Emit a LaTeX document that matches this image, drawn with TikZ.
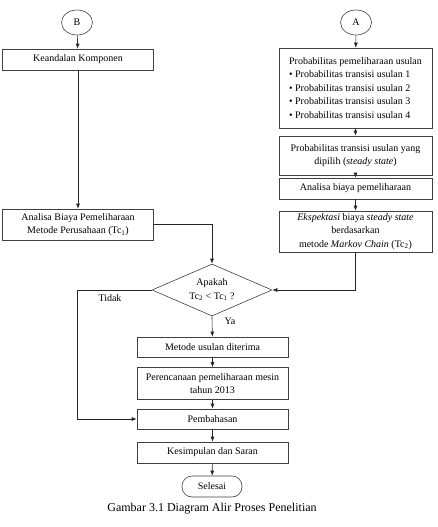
\documentclass[tikz,border=0pt]{standalone}
\usepackage{fontspec}
\setmainfont{Liberation Serif}
\usetikzlibrary{shapes}
\usetikzlibrary{shapes.geometric}
\usetikzlibrary{arrows.meta}
\tikzset{
    cell/.style = {rectangle, draw=black!75, line width=0.6pt, minimum width=151pt, align=center, inner sep=2pt},
    circ/.style = {ellipse, draw=black!75, line width=0.6pt, minimum width=31pt, minimum height=25pt, inner sep=0pt},
    term/.style = {rectangle, rounded corners=10pt, draw=black!75, line width=0.6pt, minimum width=60pt, minimum height=21pt},
    decide/.style = {diamond, draw=black!75, line width=0.6pt, aspect=2.3, minimum width=120pt, minimum height=52pt, inner sep=0pt, align=center},
    edgen/.style = {-{Latex[length=5pt,width=4pt]}, line width=0.6pt, black!85},
    lbl/.style = {inner sep=1pt},
    every picture/.style={font issue=\fontsize{10}{13.5}},
    font issue/.style={execute at begin picture={#1\selectfont}
  }
}
\begin{document}
\begin{tikzpicture}[x=1pt,y=1pt]
  \useasboundingbox (0,0) rectangle (437,-527);
  % left column
  \node[circ] at (77,-22.5) (b) {B};
  \node[cell, minimum height=21pt] at (78,-59.5) (kk) {Keandalan Komponen};
  \node[cell, minimum height=31pt] at (78,-224.5) (abp) {Analisa Biaya Pemeliharaan\\Metode Perusahaan (Tc\textsubscript{1})};
  % right column
  \node[circ] at (356,-22.5) (a) {A};
  \node[cell, minimum width=153pt, minimum height=80pt, align=left] at (355.5,-88) (prob) {Probabilitas pemeliharaan usulan\\
    \textbullet{} Probabilitas transisi usulan 1\\
    \textbullet{} Probabilitas transisi usulan 2\\
    \textbullet{} Probabilitas transisi usulan 3\\
    \textbullet{} Probabilitas transisi usulan 4};
  \node[cell, minimum width=153pt, minimum height=39pt] at (355.5,-155.5) (pts) {Probabilitas transisi usulan yang\\dipilih (\textit{steady state})};
  \node[cell, minimum width=153pt, minimum height=21pt] at (355.5,-188.5) (abiaya) {Analisa biaya pemeliharaan};
  \node[cell, minimum width=153pt, minimum height=41pt] at (355.5,-231.5) (eks) {\textit{Ekspektasi} biaya \textit{steady state}\\berdasarkan\\metode \textit{Markov Chain} (Tc\textsubscript{2})};
  % centre column
  \node[decide] at (212,-290) (dec) {Apakah\\Tc\textsubscript{2} < Tc\textsubscript{1} ?};
  \node[cell, minimum height=20pt] at (212.5,-347) (mud) {Metode usulan diterima};
  \node[cell, minimum height=32pt] at (212.5,-383.5) (per) {Perencanaan pemeliharaan mesin\\tahun 2013};
  \node[cell, minimum height=20pt] at (212.5,-419) (pem) {Pembahasan};
  \node[cell, minimum height=21pt] at (212.5,-452.5) (kes) {Kesimpulan dan Saran};
  \node[term] at (212,-486.5) (sel) {Selesai};
  \node[font=\fontsize{12}{14}\selectfont] at (212,-509) (cap) {Gambar 3.1 Diagram Alir Proses Penelitian};
  \node[lbl] at (110,-298) (tidak) {Tidak};
  \node[lbl] at (230,-321) (ya) {Ya};
  \coordinate (tk) at (77,-290);

  \draw[edgen] (b) -- (kk);
  \draw[edgen] (kk) -- (abp);
  \draw[edgen] (abp.east) -| (dec.north);
  \draw[edgen] (a) -- (prob);
  \draw[edgen] (prob) -- (pts);
  \draw[edgen] (pts) -- (abiaya);
  \draw[edgen] (abiaya) -- (eks);
  \draw[edgen] (eks.south) |- (dec.east);
  \draw[edgen] (dec.south) -- (mud);
  \draw[edgen] (mud) -- (per);
  \draw[edgen] (per) -- (pem);
  \draw[edgen] (pem) -- (kes);
  \draw[edgen] (kes) -- (sel);
  \draw[edgen] (dec.west) -- (tk) |- (pem.west);
\end{tikzpicture}
\end{document}
